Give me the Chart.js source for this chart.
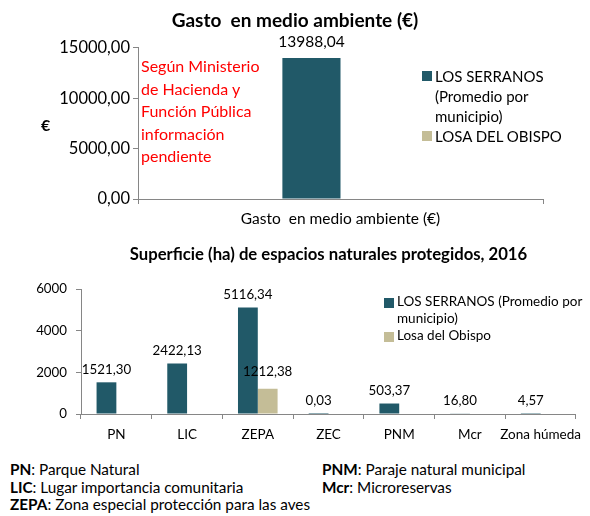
<!DOCTYPE html>
<html>
<head>
<meta charset="utf-8">
<script src="https://cdn.jsdelivr.net/npm/chart.js@4.4.1/dist/chart.umd.min.js"></script>
<style>
  body { margin: 0; background: #fff; font-family: Lato, sans-serif; color: #000; }
  #page { position: relative; width: 590px; height: 516px; overflow: hidden; }
  canvas { position: absolute; left: 0; }
  #chart1 { top: 0; }
  #chart2 { top: 235px; }
  .txt { position: absolute; white-space: nowrap; }
  .sw { display: inline-block; width: 10px; height: 10px; margin-right: 3px; }
  #note { left: 141px; top: 55px; color: #ff0000; font-size: 16px; line-height: 22.5px; }
  #euro { left: 41px; top: 115px; font-weight: bold; font-size: 16px; }
  #leg1 { left: 422px; top: 66px; font-size: 15px; line-height: 20px; }
  #leg2 { left: 384px; top: 293px; font-size: 13.5px; line-height: 17px; }
  .notes { font-size: 15.3px; line-height: 17.5px; top: 461px; }
</style>
</head>
<body>
<div id="page">
  <canvas id="chart1" width="590" height="235"></canvas>
  <canvas id="chart2" width="590" height="215"></canvas>
  <div class="txt" id="euro">€</div>
  <div class="txt" id="note">Según Ministerio<br>de Hacienda y<br>Función Pública<br>información<br>pendiente</div>
  <div class="txt" id="leg1"></div>
  <div class="txt" id="leg2"></div>
  <div class="txt notes" style="left:10px"><b>PN</b>: Parque Natural<br><b>LIC</b>: Lugar importancia comunitaria<br><b>ZEPA</b>: Zona especial protección para las aves</div>
  <div class="txt notes" style="left:322px"><b>PNM</b>: Paraje natural municipal<br><b>Mcr</b>: Microreservas</div>
</div>
<script>
//top chart data
const gastoLabels = ["Gasto  en medio ambiente (€)"];
const gastoSerranos = [13988.04];
const gastoLosa = [null];
const gastoTicks = [0, 5000, 10000, 15000];

//bottom chart data
const espLabels = ["PN", "LIC", "ZEPA", "ZEC", "PNM", "Mcr", "Zona húmeda"];
const espSerranos = [1521.30, 2422.13, 5116.34, 0.03, 503.37, 16.80, 4.57];
const espLosa = [null, null, 1212.38, null, null, null, null];
const espTicks = [0, 2000, 4000, 6000];

const COL_SERRANOS = "#215968";
const COL_LOSA = "#C4BD97";
const AXIS = "#868686";

Chart.defaults.font.family = "Lato";
Chart.defaults.color = "#000";

function fmt(v, d) {
  return v.toFixed(d).replace(".", ",");
}

//value labels above bars
const valueLabels = {
  id: "valueLabels",
  afterDatasetsDraw(chart, args, opts) {
    const ctx = chart.ctx;
    ctx.save();
    ctx.font = opts.size + "px Lato";
    ctx.fillStyle = "#000";
    ctx.textAlign = "center";
    ctx.textBaseline = "middle";
    chart.data.datasets.forEach((ds, i) => {
      const off = ds.labelOffset || opts.offset;
      chart.getDatasetMeta(i).data.forEach((bar, j) => {
        const v = ds.data[j];
        if (v == null) return;
        ctx.fillText(fmt(v, 2), bar.x, bar.y - off);
      });
    });
    ctx.restore();
  }
};

//legends (html)
function legendHtml(items) {
  return items.map((it) =>
    '<div style="display:flex;align-items:flex-start"><span class="sw" style="background:' + it[1] +
    ';margin-top:5px"></span><span>' + it[0] + "</span></div>").join("");
}
document.getElementById("leg1").innerHTML = legendHtml([
  ["LOS SERRANOS<br>(Promedio por<br>municipio)", COL_SERRANOS],
  ["LOSA DEL OBISPO", COL_LOSA]
]);
document.getElementById("leg2").innerHTML = legendHtml([
  ["LOS SERRANOS (Promedio por<br>municipio)", COL_SERRANOS],
  ["Losa del Obispo", COL_LOSA]
]);

new Chart(document.getElementById("chart1"), {
  type: "bar",
  data: {
    labels: gastoLabels,
    datasets: [
      { label: "LOS SERRANOS (Promedio por municipio)", data: gastoSerranos, backgroundColor: COL_SERRANOS },
      { label: "LOSA DEL OBISPO", data: gastoLosa, backgroundColor: COL_LOSA }
    ]
  },
  plugins: [valueLabels],
  options: {
    responsive: false,
    animation: false,
    categoryPercentage: 0.287,
    barPercentage: 1,
    layout: { padding: { left: 0, right: 0, top: 0, bottom: 0 } },
    plugins: {
      legend: { display: false },
      tooltip: { enabled: false },
      title: {
        display: true,
        text: "Gasto  en medio ambiente (€)",
        font: { size: 19, weight: "bold" },
        padding: { top: 9, bottom: 16 },
        color: "#000"
      },
      valueLabels: { size: 15.5, offset: 16 }
    },
    scales: {
      x: {
        grid: { offset: true, drawOnChartArea: false, tickLength: 5, color: AXIS },
        border: { color: AXIS },
        ticks: { font: { size: 15.5 }, padding: 6 },
        afterFit: (s) => { s.height = 36; }
      },
      y: {
        min: 0,
        max: 15000,
        afterBuildTicks: (s) => { s.ticks = gastoTicks.map((v) => ({ value: v })); },
        grid: { drawOnChartArea: false, tickLength: 5, color: AXIS },
        border: { color: AXIS },
        ticks: { font: { size: 16.5 }, padding: 3, callback: (v) => fmt(v, 2) },
        afterFit: (s) => { s.width = 138; }
      },
      yr: {
        position: "right",
        display: true,
        grid: { display: false },
        border: { display: false },
        ticks: { display: false },
        afterFit: (s) => { s.width = 47; }
      }
    }
  }
});

new Chart(document.getElementById("chart2"), {
  type: "bar",
  data: {
    labels: espLabels,
    datasets: [
      { label: "LOS SERRANOS (Promedio por municipio)", data: espSerranos, backgroundColor: COL_SERRANOS },
      { label: "Losa del Obispo", data: espLosa, backgroundColor: COL_LOSA, labelOffset: 17 }
    ]
  },
  plugins: [valueLabels],
  options: {
    responsive: false,
    animation: false,
    categoryPercentage: 0.56,
    barPercentage: 1,
    layout: { padding: { left: 0, right: 8, top: 0, bottom: 0 } },
    plugins: {
      legend: { display: false },
      tooltip: { enabled: false },
      title: {
        display: true,
        fullSize: false,
        text: "Superficie (ha) de espacios naturales protegidos, 2016",
        font: { size: 16.7, weight: "bold" },
        padding: { top: 10, bottom: 24 },
        color: "#000"
      },
      valueLabels: { size: 13.3, offset: 13 }
    },
    scales: {
      x: {
        grid: { offset: true, drawOnChartArea: false, tickLength: 5, color: AXIS },
        border: { color: AXIS },
        ticks: { font: { size: 13.5 }, padding: 8, maxRotation: 0, minRotation: 0, autoSkip: false },
        afterFit: (s) => { s.height = 36; }
      },
      y: {
        min: 0,
        max: 6000,
        afterBuildTicks: (s) => { s.ticks = espTicks.map((v) => ({ value: v })); },
        grid: { drawOnChartArea: false, tickLength: 5, color: AXIS },
        border: { color: AXIS },
        ticks: { font: { size: 13.3 }, padding: 9, callback: (v) => String(v) },
        afterFit: (s) => { s.width = 81; }
      }
    }
  }
});
</script>
</body>
</html>
